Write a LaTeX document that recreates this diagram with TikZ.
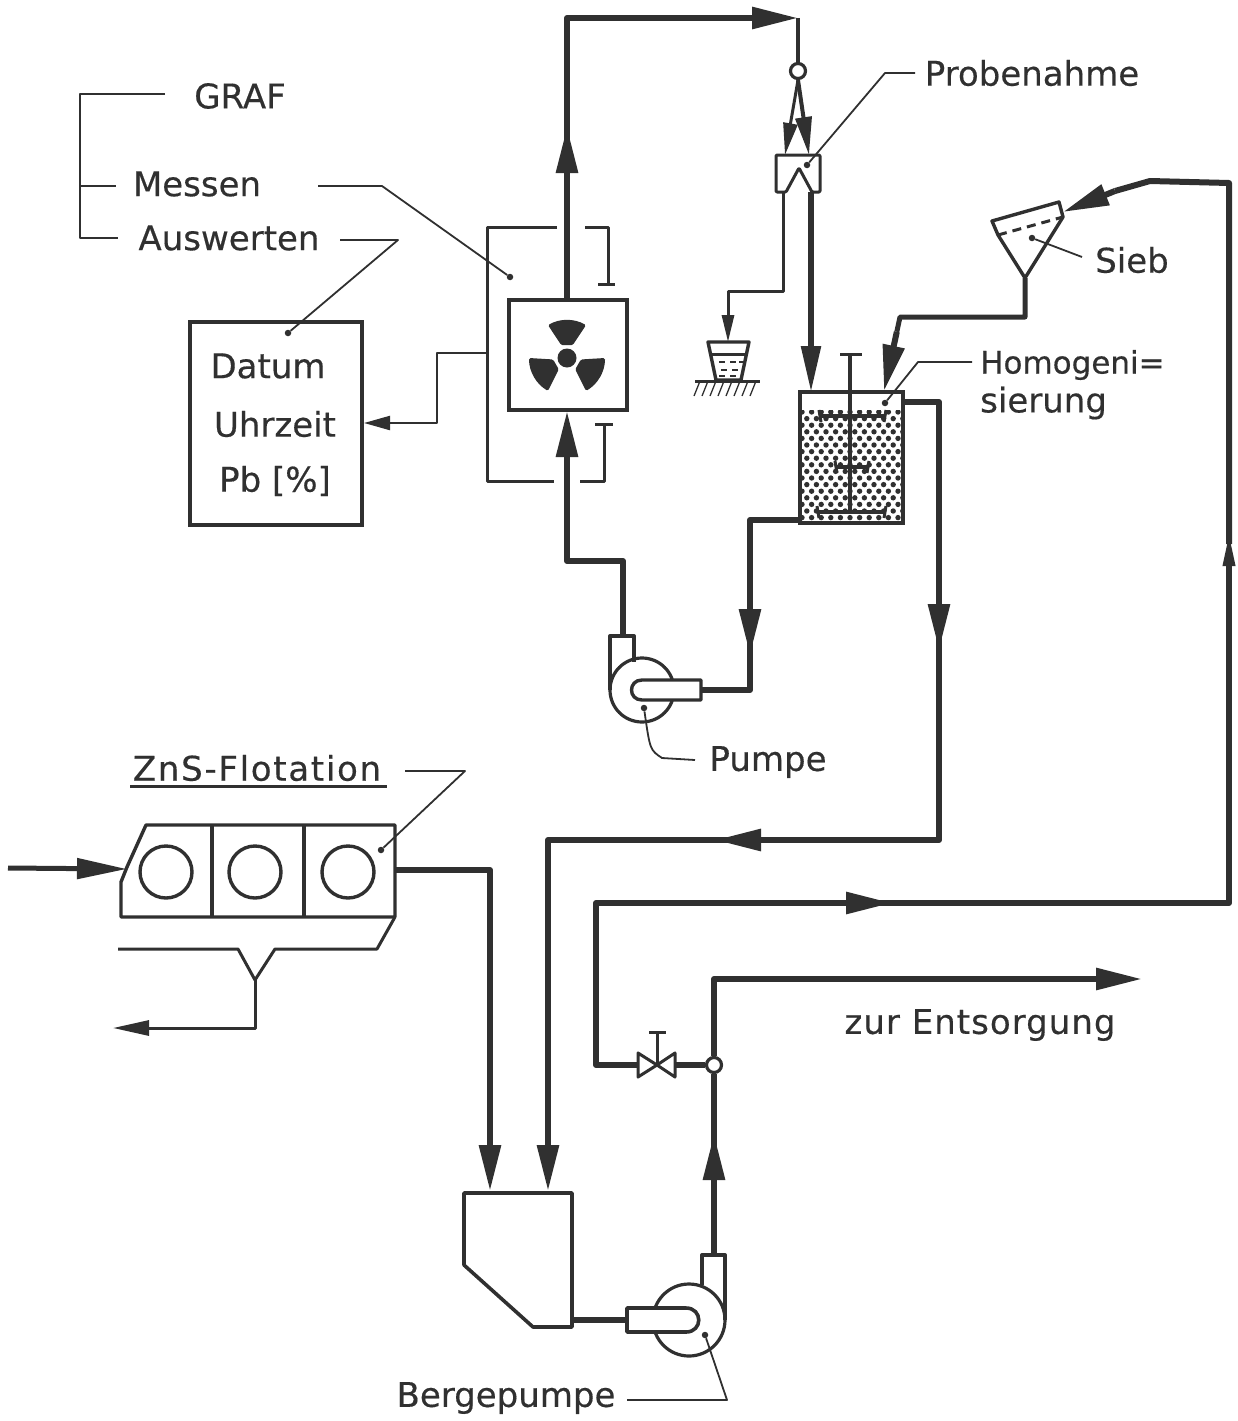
\documentclass[tikz,border=0pt]{standalone}
\usepackage{fontspec}
\setmainfont{DejaVu Sans}[FakeBold=0.4]
\usetikzlibrary{arrows.meta,calc}
\definecolor{ink}{HTML}{303030}
\tikzset{
  pipe/.style={draw=ink,line width=6pt,line join=round},
  cont/.style={pipe,shorten <=-14pt},
  thin/.style={draw=ink,line width=3pt,line join=round},
  lead/.style={draw=ink,line width=1.8pt,line join=round},
  big/.style={pipe,-{Triangle[length=46pt,width=21pt]}},
  lab/.style={font=\fontsize{34}{40}\selectfont,text=ink,inner sep=0pt},
  equip/.style={draw=ink,line width=4pt,inner sep=0pt,fill=white},
  ball/.style={circle,draw=ink,line width=3.2pt,fill=white,inner sep=0pt,minimum size=15pt},
  wheel/.style={circle,draw=ink,line width=3.4pt,inner sep=0pt,minimum size=52pt},
  dot/.style={circle,fill=ink,inner sep=0pt,minimum size=6.5pt},
}
\begin{document}
\begin{tikzpicture}[x=1pt,y=-1pt]
\useasboundingbox (0,0) rectangle (1237,1421);
% ---------- labels
\node[lab] (graf) at (240,96) {GRAF};
\node[lab] (messen) at (197,184) {Messen};
\node[lab] (ausw) at (229,238) {Auswerten};
\node[lab] (probe) at (1032,73) {Probenahme};
\node[lab] (sieb) at (1132,260) {Sieb};
\node[lab,anchor=west,font=\fontsize{31}{36}\selectfont] (homo1) at (980,365) {Homogeni=};
\node[lab,anchor=west] (homo2) at (980,403) {sierung};
\node[lab] (pumpe) at (768,762) {Pumpe};
\node[lab] (zns) at (257,768) {\addfontfeature{LetterSpace=5}ZnS-Flotation};
\node[lab] (entsorg) at (980,1025) {\addfontfeature{LetterSpace=3}zur Entsorgung};
\node[lab] (berge) at (506,1398) {Bergepumpe};
\coordinate (znsA) at (130,786); \coordinate (znsB) at (387,786);
\draw[thin] (znsA) -- (znsB);
% ---------- GRAF bracket
\coordinate (br1) at (165,94); \coordinate (br2) at (80,94); \coordinate (br3) at (80,238);
\coordinate (br4) at (118,238); \coordinate (br5) at (80,186); \coordinate (br6) at (116,186);
\draw[lead] (br1) -- (br2) -- (br3) -- (br4);
\draw[lead] (br5) -- (br6);
% ---------- display box
\node[equip,minimum width=172pt,minimum height=203pt] (display) at (276,423.5) {};
\node[lab] (datum) at (268,366) {Datum};
\node[lab] (uhr) at (275,424) {Uhrzeit};
\node[lab] (pb) at (275,481) {Pb [\%]};
% ---------- detector
\coordinate (frTL) at (487,227); \coordinate (frBL) at (487,481);
\coordinate (frT1) at (557,227); \coordinate (frT2) at (585,227); \coordinate (frT3) at (608,227); \coordinate (frT4) at (608,284);
\coordinate (frB1) at (554,481); \coordinate (frB2) at (580,481); \coordinate (frB3) at (604,481); \coordinate (frB4) at (604,424);
\coordinate (barA1) at (598,284); \coordinate (barA2) at (615,284);
\coordinate (barB1) at (595,424); \coordinate (barB2) at (613,424);
\draw[thin] (frT1) -- (frTL) -- (frBL) -- (frB1);
\draw[thin] (frT2) -- (frT3) -- (frT4);
\draw[thin] (barA1) -- (barA2);
\draw[thin] (frB2) -- (frB3) -- (frB4);
\draw[thin] (barB1) -- (barB2);
\coordinate (sig1) at (487,353); \coordinate (sig2) at (437,353); \coordinate (sig3) at (437,423);
\draw[lead,line width=2.2pt,-{Triangle[length=26pt,width=14pt]}] (sig1) -- (sig2) -- (sig3) -- (display.east |- sig3);
% loop up from detector
\node[equip,minimum width=118pt,minimum height=110pt] (det) at (568,355) {};
\begin{scope}[shift={(567,358)}]
  \node[circle,fill=ink,inner sep=0pt,minimum size=19pt] (core) at (0,0) {};
  \foreach \a in {90,210,330} {
    \fill[ink,rounded corners=1.5pt] (\a-30:38pt) arc[start angle=\a-30,end angle=\a+30,radius=38pt]
      -- (\a+24:14pt) -- (\a-24:14pt) -- cycle;
  }
\end{scope}
\coordinate (upTip) at (567,127); \coordinate (tl) at (567,18);
\coordinate (hTip) at (798,18);
\node[ball] (split) at (798,71) {};
\draw[big] (det.north -| upTip) -- (upTip);
\draw[cont] (upTip) -- (tl) -- ++(180,0) coordinate (hs);
\draw[big] (hs) -- (hTip);
\draw[pipe,line width=4.5pt] (hTip) -- (split.north);
% sampler
\coordinate (sm1) at (776,155); \coordinate (sm2) at (820,155); \coordinate (sm3) at (820,192);
\coordinate (sm4) at (812,192); \coordinate (sm5) at (799,168); \coordinate (sm6) at (786,192); \coordinate (sm7) at (776,192);
\draw[thin,fill=white,rounded corners=1pt] (sm1) -- (sm2) -- (sm3) -- (sm4) -- (sm5) -- (sm6) -- (sm7) -- cycle;
\coordinate (sL) at (785,155); \coordinate (sR) at (809,155);
\draw[draw=ink,line width=3pt,-{Triangle[length=32pt,width=14pt]}] (split.south) -- (sL);
\draw[draw=ink,line width=4pt,-{Triangle[length=38pt,width=16pt]}] (split.south) -- (sR);
% sample discharge to bucket
\coordinate (sa1) at (783,192); \coordinate (sa2) at (783,291); \coordinate (sa3) at (728,291); \coordinate (sa4) at (728,342);
\draw[thin,-{Triangle[length=27pt,width=12pt]}] (sa1) -- (sa2) -- (sa3) -- (sa4);
\coordinate (bk1) at (708,342); \coordinate (bk2) at (749,342); \coordinate (bk3) at (741,380); \coordinate (bk4) at (716,380);
\draw[thin,line width=3.4pt] (bk1) -- (bk2) -- (bk3) -- (bk4) -- cycle;
\coordinate (bq1) at (712,354); \coordinate (bq2) at (745,354);
\draw[thin] (bq1) -- (bq2);
\foreach \x/\y in {722/362,733/362,742/362,724/370,735/370,722/376,733/376}
  \draw[ink,line width=2pt] (\x-3,\y) -- (\x+3,\y);
\coordinate (gr1) at (695,381); \coordinate (gr2) at (760,381);
\draw[thin] (gr1) -- (gr2);
\foreach \x in {700,708,716,724,732,740,748,756}
  \draw[ink,line width=1.3pt] (\x,381) -- (\x-6,396);
% sampler to tank
\coordinate (tIn) at (811,392);
\draw[pipe,line width=5.5pt,-{Triangle[length=46pt,width=19pt]}] (sm4 -| tIn) -- (tIn);
% ---------- tank
\node[equip,minimum width=103pt,minimum height=131pt] (tank) at (851.5,457.5) {};
\begin{scope}
  \clip (801,410) rectangle (902,522);
  \foreach \r in {0,...,17} {
    \pgfmathsetmacro{\yy}{412+\r*6.6}
    \pgfmathsetmacro{\xo}{802+mod(\r,2)*4.8}
    \foreach \c in {0,...,11}
      \fill[ink] ({\xo+\c*9.6},\yy) circle[radius=2.7pt];
  }
\end{scope}
\node[draw=ink,line width=4pt,minimum width=103pt,minimum height=131pt,inner sep=0pt] (tankb) at (851.5,457.5) {};
\coordinate (sh0) at (850,354); \coordinate (sh1) at (850,512);
\coordinate (b1a) at (840,354); \coordinate (b1b) at (862,354);
\draw[thin,line width=3.6pt] (sh0) -- (sh1);
\draw[thin] (b1a) -- (b1b);
\foreach \xa/\xb/\yc in {820/885/416,836/868/467,818/885/512} {
  \draw[thin,line width=4pt] (\xa,\yc) -- (\xb,\yc);
  \draw[thin] (\xa-1,\yc-6) -- (\xa+1,\yc+6);
  \draw[thin] (\xb+1,\yc-6) -- (\xb-1,\yc+6);
}
% ---------- sieve
\coordinate (sv1) at (992,221); \coordinate (sv2) at (1059,202); \coordinate (sv3) at (1063,217);
\coordinate (sv4) at (1025,278); \coordinate (sv5) at (998,235);
\draw[thin,line width=3.4pt,fill=white] (sv1) -- (sv2) -- (sv3) -- (sv4) -- (sv5) -- cycle;
\draw[thin,dash pattern=on 9pt off 6pt] (sv5) -- (sv3);
\coordinate (sp1) at (1025,317); \coordinate (sp2) at (900,317); \coordinate (sTip) at (884,391);
\coordinate (sp3) at ($(sp2)!0.2!(sTip)$);
\draw[pipe,line width=5pt] (sv4) -- (sp1) -- (sp2) -- (sp3);
\draw[big] (sp3) -- (sTip);
% tank overflow to sump
\coordinate (ov1) at (939,402); \coordinate (ovT) at (939,650); \coordinate (ov2) at (939,840);
\coordinate (ovL) at (715,840); \coordinate (ov3) at (548,840); \coordinate (ovS) at (548,1191);
\draw[pipe] (tank.east |- ov1) -- (ov1) -- (939,600);
\draw[big] (939,600) -- (ovT);
\draw[cont] (ovT) -- (ov2) -- (760,840);
\draw[big] (760,840) -- (ovL);
\draw[cont] (ovL) -- (ov3) -- (548,1140);
\draw[big] (548,1140) -- (ovS);
% ---------- sample pump
\coordinate (pO) at (623,636); \coordinate (pO2) at (623,561); \coordinate (pO3) at (567,561);
\coordinate (dIn) at (567,411);
\coordinate (oa) at (610,690); \coordinate (ob) at (610,636); \coordinate (oc) at (634,636); \coordinate (od) at (634,662);
\draw[thin,line width=3.4pt] (oa) -- (ob) -- (oc) -- (od);
\node[circle,draw=ink,line width=3.2pt,inner sep=0pt,minimum size=64pt] (pump) at (642,690) {};
\coordinate (ta) at (701,680); \coordinate (tb) at (642,680); \coordinate (tc) at (642,700); \coordinate (td) at (701,700);
\draw[thin,line width=3.4pt,fill=white] (ta) -- (tb) .. controls (628,680) and (628,700) .. (tc) -- (td) -- cycle;
\draw[pipe] (pO) -- (pO2) -- (pO3) -- (567,470);
\draw[big] (567,470) -- (dIn);
\coordinate (ex1) at (800,520); \coordinate (ex2) at (750,520); \coordinate (exT) at (750,655); \coordinate (ex3) at (750,690);
\draw[pipe] (tank.west |- ex1) -- (ex2) -- (750,608);
\draw[big] (750,608) -- (exT);
\draw[cont] (exT) -- (ex3) -- (td |- ex3);
% ---------- flotation
\coordinate (f1) at (146,825); \coordinate (f2) at (395,825); \coordinate (f3) at (395,917);
\coordinate (f4) at (121,917); \coordinate (f5) at (121,882); \coordinate (f6) at (127,867);
\draw[thin,line width=3.4pt] (f1) -- (f2) -- (f3) -- (f4) -- (f5) -- (f6) -- cycle;
\coordinate (dv1) at (212,825); \coordinate (dv2) at (212,917); \coordinate (dv3) at (304,825); \coordinate (dv4) at (304,917);
\draw[thin,line width=3.4pt] (dv1) -- (dv2);
\draw[thin,line width=3.4pt] (dv3) -- (dv4);
\node[wheel] (w1) at (166,872) {};
\node[wheel] (w2) at (255,872) {};
\node[wheel] (w3) at (348,872) {};
\coordinate (fin) at (8,868); \coordinate (finT) at (127,869);
\draw[pipe,line width=5pt,-{Triangle[length=50pt,width=20pt]}] (fin) -- (finT);
\coordinate (fo1) at (395,870); \coordinate (fo2) at (490,870); \coordinate (fo3) at (490,1191);
\draw[pipe] (fo1) -- (fo2) -- (490,1140);
\draw[big] (490,1140) -- (fo3);
\coordinate (co1) at (377,949); \coordinate (co2) at (275,949); \coordinate (co3) at (255,980);
\coordinate (co4) at (238,949); \coordinate (co5) at (118,949); \coordinate (co6) at (255,1028); \coordinate (co7) at (113,1028);
\draw[thin] (f3) -- (co1) -- (co2) -- (co3) -- (co4) -- (co5);
\draw[thin,-{Triangle[length=36pt,width=15pt]}] (co3) -- (co6) -- (co7);
% ---------- sump
\coordinate (su1) at (464,1193); \coordinate (su2) at (572,1193); \coordinate (su3) at (572,1327);
\coordinate (su4) at (533,1327); \coordinate (su5) at (464,1265);
\draw[thin,line width=3.6pt,fill=white] (su1) -- (su2) -- (su3) -- (su4) -- (su5) -- cycle;
% ---------- Bergepumpe
\coordinate (ba) at (725,1320); \coordinate (bb) at (725,1255); \coordinate (bc) at (702,1255); \coordinate (bd) at (702,1285);
\draw[thin,line width=3.4pt] (ba) -- (bb) -- (bc) -- (bd);
\node[circle,draw=ink,line width=3.2pt,inner sep=0pt,minimum size=72pt] (bpump) at (689,1320) {};
\coordinate (bt1) at (627,1308); \coordinate (bt2) at (686,1308); \coordinate (bt3) at (686,1332); \coordinate (bt4) at (627,1332);
\draw[thin,line width=3.6pt,fill=white] (bt1) -- (bt2) .. controls (703,1308) and (703,1332) .. (bt3) -- (bt4) -- cycle;
\coordinate (bl) at (572,1320);
\draw[pipe] (bl) -- (bt1 |- bl);
% ---------- return lines and valve
\node[ball] (tee) at (714,1065) {};
\coordinate (vA1) at (638,1053); \coordinate (vA2) at (638,1077); \coordinate (vC) at (657,1065);
\coordinate (vB1) at (675,1053); \coordinate (vB2) at (675,1077); \coordinate (vS) at (657,1032);
\coordinate (vT1) at (649,1032); \coordinate (vT2) at (666,1032);
\draw[thin,fill=white] (vA1) -- (vC) -- (vA2) -- cycle;
\draw[thin,fill=white] (vB1) -- (vC) -- (vB2) -- cycle;
\draw[thin] (vC) -- (vS);
\draw[thin] (vT1) -- (vT2);
\coordinate (ru) at (714,1255); \coordinate (ruT) at (714,1134);
\draw[big] (ru) -- (ruT);
\draw[cont] (ruT) -- (tee.south);
\draw[pipe] (vB1 |- tee) -- (tee.west);
\coordinate (re1) at (596,1065); \coordinate (re2) at (596,903); \coordinate (reT) at (892,903);
\coordinate (re3) at (1229,903); \coordinate (reU) at (1229,530); \coordinate (re4) at (1229,183);
\coordinate (re5) at (1150,181); \coordinate (reS) at (1063,212);
\draw[pipe] (vA1 |- tee) -- (re1) -- (re2) -- (845,903);
\draw[big] (845,903) -- (reT);
\draw[cont] (reT) -- (re3) -- (1229,566);
\draw[pipe,-{Triangle[length=36pt,width=11pt]}] (1229,566) -- (reU);
\draw[cont] (reU) -- (re4) -- (re5) -- (1115,191);
\draw[big] (1115,191) -- (reS);
\coordinate (dis1) at (714,979); \coordinate (disE) at (1142,979);
\draw[pipe] (tee.north) -- (dis1) -- (1094,979);
\draw[big] (1094,979) -- (disE);
% ---------- leaders
\node[dot] (dMess) at (510,277) {};
\node[dot] (dAus) at (288,333) {};
\node[dot] (dPro) at (807,165) {};
\node[dot] (dHom) at (885,403) {};
\node[dot] (dSieb) at (1032,238) {};
\node[dot] (dPump) at (644,708) {};
\node[dot] (dFlot) at (381,850) {};
\node[dot] (dBerg) at (705,1335) {};
\coordinate (lm1) at (318,186); \coordinate (lm2) at (382,186);
\coordinate (la1) at (340,240); \coordinate (la2) at (398,240);
\coordinate (lp1) at (915,73); \coordinate (lp2) at (885,73);
\coordinate (lh1) at (972,362); \coordinate (lh2) at (918,362);
\coordinate (ls1) at (1082,257);
\coordinate (lu1) at (695,760); \coordinate (lu2) at (662,758);
\coordinate (lf1) at (405,771); \coordinate (lf2) at (465,771);
\coordinate (lb1) at (627,1400); \coordinate (lb2) at (727,1400);
\draw[lead] (lm1) -- (lm2) -- (dMess);
\draw[lead] (la1) -- (la2) -- (dAus);
\draw[lead] (lp1) -- (lp2) -- (dPro);
\draw[lead] (lh1) -- (lh2) -- (dHom);
\draw[lead] (ls1) -- (dSieb);
\draw[lead] (lu1) -- (lu2) .. controls (650,750) .. (dPump);
\draw[lead] (lf1) -- (lf2) -- (dFlot);
\draw[lead] (lb1) -- (lb2) -- (dBerg);
\end{tikzpicture}
\end{document}
